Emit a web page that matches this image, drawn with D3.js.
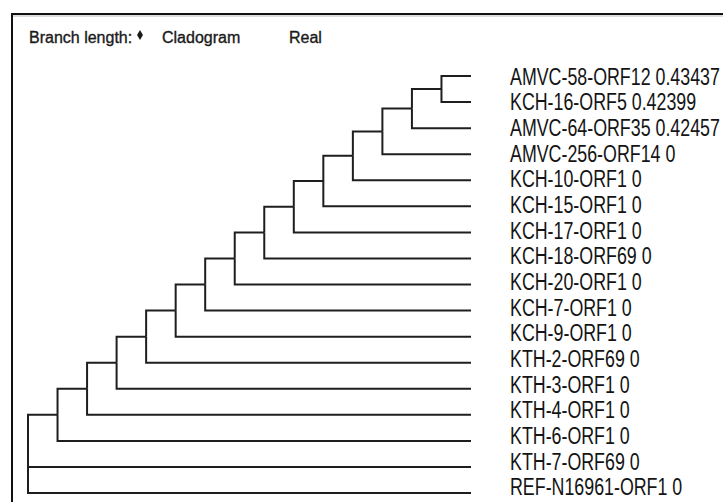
<!DOCTYPE html>
<html lang="en">
<head>
    <meta charset="UTF-8">
    <title>Cladogram</title>
    <style type="text/css">
        body { margin: 0; background: #fff; }
        .header { font: 16px "Liberation Sans", Arial, sans-serif; fill: #1a1a1a; stroke: #1a1a1a; stroke-width: 0.35px; }
        .leaf { font: 23px "Liberation Sans", Arial, sans-serif; fill: #141414; }
        .link { fill: none; stroke: #1e1e1e; stroke-width: 2px; }
    </style>
</head>
<body>

<svg width="723" height="502"></svg>

<script src="https://d3js.org/d3.v7.min.js"></script>

<script>
    // leaves, top to bottom
    var leafNames = ["AMVC-58-ORF12", "KCH-16-ORF5", "AMVC-64-ORF35", "AMVC-256-ORF14",
        "KCH-10-ORF1", "KCH-15-ORF1", "KCH-17-ORF1", "KCH-18-ORF69", "KCH-20-ORF1",
        "KCH-7-ORF1", "KCH-9-ORF1", "KTH-2-ORF69", "KTH-3-ORF1", "KTH-4-ORF1",
        "KTH-6-ORF1", "KTH-7-ORF69", "REF-N16961-ORF1"];
    var leafValues = ["0.43437", "0.42399", "0.42457", "0", "0", "0", "0", "0", "0",
        "0", "0", "0", "0", "0", "0", "0", "0"];
    var headerLabels = ["Branch length:", "Cladogram", "Real"];

    // nested tree: each leaf joins the clade above it, last two hang off the root
    var leaves = leafNames.map(function (d, i) {
        return {name: d, value: leafValues[i]};
    });
    var clade = {children: [leaves[0], leaves[1]]};
    for (var i = 2; i < leaves.length - 2; i++) {
        clade = {children: [clade, leaves[i]]};
    }
    var treeData = {children: [clade, leaves[leaves.length - 2], leaves[leaves.length - 1]]};

    var svg = d3.select("svg");

    // frame (runs off the right and bottom of the picture)
    svg.append("path")
            .attr("d", "M12,525V14H740")
            .attr("fill", "none")
            .attr("stroke", "#111")
            .attr("stroke-width", 2);
    svg.append("line")
            .attr("x1", 13).attr("x2", 740)
            .attr("y1", 16).attr("y2", 16)
            .attr("stroke", "#bbb")
            .attr("stroke-width", 1);

    // header
    var hx = [29, 162, 289];
    svg.selectAll(".header")
            .data(headerLabels)
            .enter().append("text")
            .attr("class", "header")
            .attr("x", function (d, i) { return hx[i]; })
            .attr("y", 43)
            .text(function (d) { return d; });
    svg.append("path")
            .attr("d", d3.symbol().type(d3.symbolDiamond).size(30))
            .attr("transform", "translate(140,35)")
            .attr("fill", "#1a1a1a");

    var root = d3.hierarchy(treeData);
    d3.cluster().separation(function () { return 1; }).size([1, 1])(root);

    var x = d3.scaleLinear().domain([0, 1]).range([28, 471]);
    var y = d3.scalePoint().domain(leafNames).range([76, 493]);
    // labels sit on a slightly tighter pitch than the branches
    var yText = d3.scalePoint().domain(leafNames).range([76.5, 487]);

    // map cluster's leaf order to the point scale
    var leafNodes = root.leaves();
    leafNodes.forEach(function (d) { d.py = y(d.data.name); });
    root.eachAfter(function (d) {
        if (d.children) {
            d.py = (d.children[0].py + d.children[d.children.length - 1].py) / 2;
        }
    });

    var g = svg.append("g");

    g.selectAll(".link")
            .data(root.descendants().filter(function (d) { return d.parent; }))
            .enter().append("path")
            .attr("class", "link")
            .attr("d", function (d) {
                return "M" + x(d.parent.y) + "," + d.parent.py +
                        "V" + d.py + "H" + x(d.y);
            });

    g.selectAll(".leaf")
            .data(leafNodes)
            .enter().append("text")
            .attr("class", "leaf")
            .attr("transform", function (d) {
                return "translate(510," + (yText(d.data.name) + 8.2) + ") scale(0.775,1)";
            })
            .text(function (d) { return d.data.name + " " + d.data.value; });

</script>

</body>
</html>
